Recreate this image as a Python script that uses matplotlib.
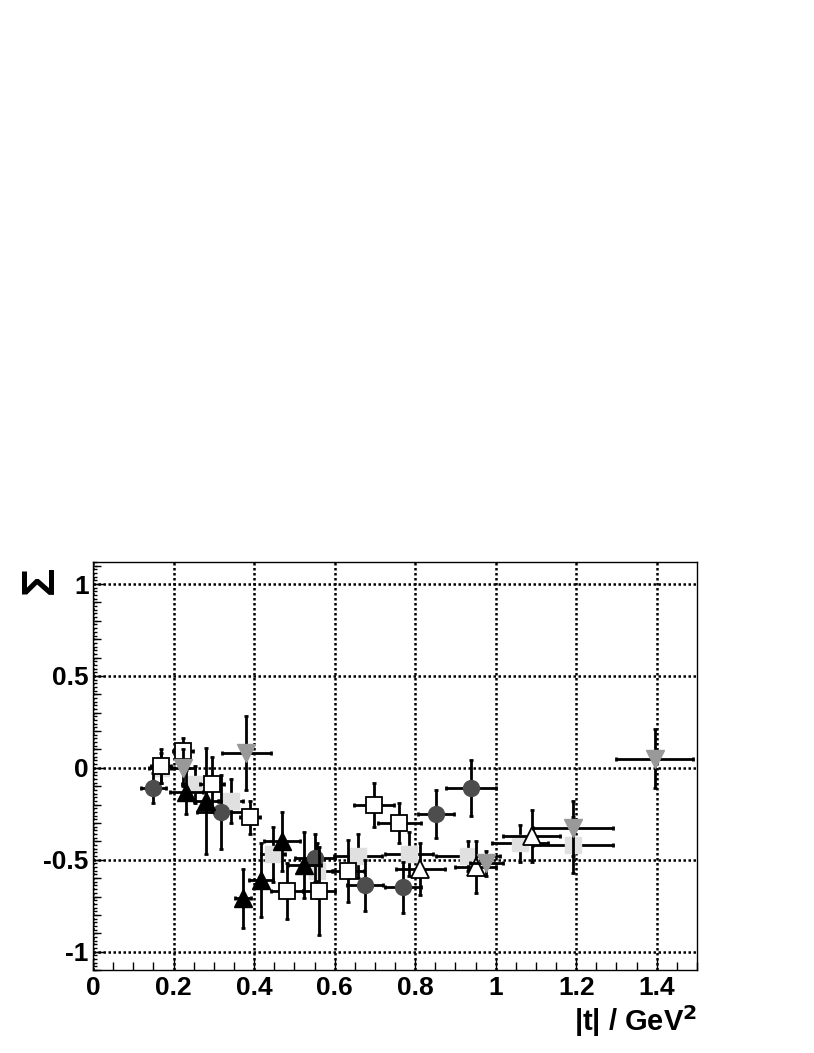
import matplotlib
matplotlib.use("Agg")
import matplotlib.pyplot as plt
from matplotlib.ticker import MultipleLocator

plt.rcParams['font.family'] = ['Liberation Sans', 'DejaVu Sans']
plt.rcParams['font.weight'] = 'bold'

# dark grey circles
circ_t = [0.150, 0.317, 0.551, 0.675, 0.770, 0.851, 0.938]
circ_s = [-0.11, -0.24, -0.49, -0.64, -0.65, -0.25, -0.11]
circ_dt = [0.03, 0.06, 0.05, 0.045, 0.045, 0.045, 0.062]
circ_ds = [0.08, 0.20, 0.13, 0.14, 0.14, 0.13, 0.15]

# black triangles
btri_t = [0.232, 0.280, 0.372, 0.418, 0.469, 0.525]
btri_s = [-0.13, -0.18, -0.71, -0.61, -0.40, -0.53]
btri_dt = [0.04, 0.03, 0.02, 0.03, 0.045, 0.04]
btri_ds = [0.12, 0.29, 0.16, 0.20, 0.16, 0.18]

# open squares
osq_t = [0.169, 0.223, 0.296, 0.390, 0.481, 0.561, 0.633, 0.698, 0.761]
osq_s = [0.01, 0.09, -0.09, -0.27, -0.67, -0.67, -0.56, -0.20, -0.30]
osq_dt = [0.025, 0.025, 0.03, 0.025, 0.04, 0.04, 0.04, 0.05, 0.054]
osq_ds = [0.09, 0.07, 0.15, 0.09, 0.15, 0.24, 0.17, 0.12, 0.11]

# light grey squares
lsq_t = [0.170, 0.252, 0.343, 0.447, 0.556, 0.658, 0.785, 0.931, 1.060, 1.192]
lsq_s = [0.00, -0.09, -0.18, -0.47, -0.56, -0.48, -0.47, -0.48, -0.41, -0.42]
lsq_dt = [0.03, 0.03, 0.03, 0.03, 0.04, 0.06, 0.06, 0.08, 0.07, 0.10]
lsq_ds = [0.08, 0.10, 0.12, 0.15, 0.15, 0.12, 0.12, 0.08, 0.10, 0.15]

# grey downward triangles
gtri_t = [0.223, 0.381, 0.977, 1.192, 1.395]
gtri_s = [0.00, 0.08, -0.52, -0.33, 0.05]
gtri_dt = [0.03, 0.06, 0.04, 0.10, 0.095]
gtri_ds = [0.10, 0.20, 0.07, 0.15, 0.16]

# open triangles
otri_t = [0.813, 0.950, 1.089]
otri_s = [-0.55, -0.54, -0.37]
otri_dt = [0.06, 0.05, 0.07]
otri_ds = [0.14, 0.14, 0.14]

fig = plt.figure(figsize=(8.14, 10.53), dpi=100)
ax = fig.add_axes([0.1143, 0.0788, 0.7420, 0.3875])

series = [
    (lsq_t, lsq_s, lsq_dt, lsq_ds, dict(marker='s', ms=11.5, mfc='#e0e0e0', mec='#e0e0e0')),
    (circ_t, circ_s, circ_dt, circ_ds, dict(marker='o', ms=11.5, mfc='#4d4d4d', mec='#4d4d4d')),
    (btri_t, btri_s, btri_dt, btri_ds, dict(marker='^', ms=13, mfc='black', mec='black')),
    (osq_t, osq_s, osq_dt, osq_ds, dict(marker='s', ms=11.5, mfc='white', mec='black', mew=1.3)),
    (otri_t, otri_s, otri_dt, otri_ds, dict(marker='^', ms=13, mfc='white', mec='black', mew=1.3)),
    (gtri_t, gtri_s, gtri_dt, gtri_ds, dict(marker='v', ms=13, mfc='#999999', mec='#999999')),
]
for i, (t, s, dt, ds, style) in enumerate(series):
    ax.errorbar(t, s, xerr=dt, yerr=ds, fmt='none', ecolor='black',
                elinewidth=2, capsize=1.6, capthick=2, zorder=3 + 2 * i)
    ax.plot(t, s, ls='none', zorder=4 + 2 * i, **style)

ax.set_xlim(0, 1.5)
ax.set_ylim(-1.1, 1.12)
ax.xaxis.set_major_locator(MultipleLocator(0.2))
ax.xaxis.set_minor_locator(MultipleLocator(0.05))
ax.yaxis.set_major_locator(MultipleLocator(0.5))
ax.yaxis.set_minor_locator(MultipleLocator(0.02))
ax.tick_params(which='both', direction='in', top=False, right=False,
               labelsize=19, width=1)
ax.tick_params(axis='x', pad=4)
ax.tick_params(axis='y', pad=3)
ax.tick_params(axis='x', which='major', length=8)
ax.tick_params(axis='x', which='minor', length=6)
ax.tick_params(axis='y', which='major', length=8)
ax.tick_params(axis='y', which='minor', length=3)
ax.grid(True, which='major', color='black', linestyle=(0, (1, 1)), linewidth=1.8)
ax.set_axisbelow(True)
for sp in ax.spines.values():
    sp.set_linewidth(1)

# medium ticks every 0.1 on the y axis
sec = ax.secondary_yaxis('left')
sec.yaxis.set_major_locator(MultipleLocator(0.1))
sec.tick_params(direction='in', length=6, width=1, labelleft=False)
sec.spines['left'].set_visible(False)

ax.set_xticklabels([f"{v:g}" for v in ax.get_xticks()])
ax.set_yticklabels([f"{v:g}" for v in ax.get_yticks()])

fig.text(0.856, 0.021, "|t| / GeV$^\\mathbf{2}$", ha='right', va='baseline',
         fontsize=21, fontweight='bold')
fig.text(0.050, 0.449, "Σ", rotation=90, ha='center', va='center', fontsize=34)

fig.savefig("out.png", dpi=100)
